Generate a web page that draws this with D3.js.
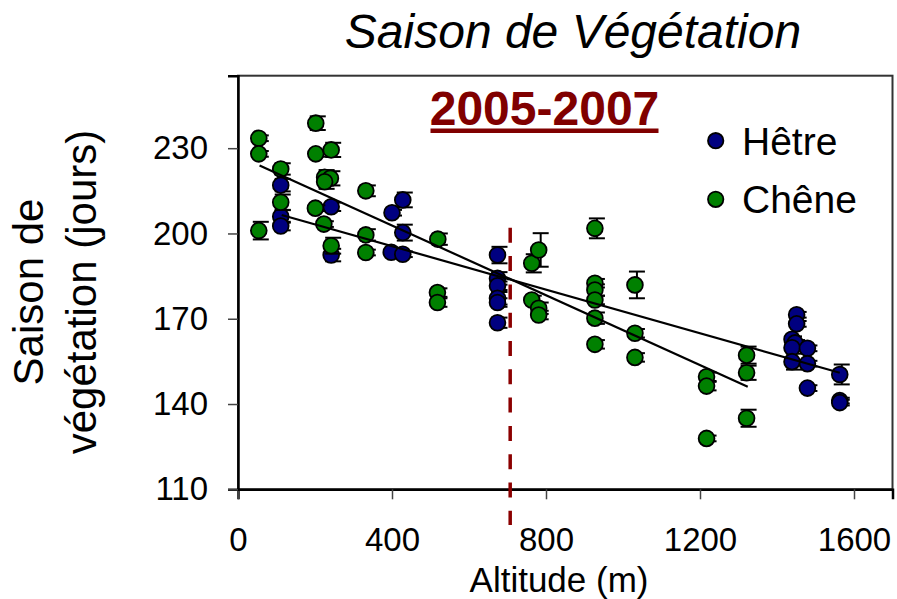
<!DOCTYPE html>
<html>
<head>
<meta charset="utf-8">
<script src="https://cdn.jsdelivr.net/npm/d3@7/dist/d3.min.js"></script>
<style>
  html, body { margin: 0; padding: 0; background: #fff; }
  svg { display: block; font-family: "Liberation Sans", Arial, sans-serif; }
</style>
</head>
<body>
<svg id="chart" width="897" height="599"></svg>
<script>
// Hêtre (beech) sites: altitude (m), season length (days), error
const hetreAlt = [111, 111, 111, 242, 242, 400, 398, 428, 428, 428,
                  674, 674, 674, 674, 674, 674,
                  1451, 1451, 1439, 1447, 1439, 1439, 1479, 1479, 1479, 1563, 1563, 1563];
const hetreVal = [217, 206, 202.6, 209.4, 192.4, 207.3, 193.4, 211.8, 200.3, 192.7,
                  192.4, 184.2, 181.6, 177.2, 175.7, 168.6,
                  171.4, 168.2, 162.8, 161.5, 159.8, 154.9, 159.6, 154.2, 145.6, 150.4, 141.2, 140.5];
const hetreErr = [2.2, 2.2, 1.5, 1.5, 2.2, 1, 1, 2.6, 2.8, 1,
                  2.9, 2.2, 1.5, 2.2, 1.5, 1.8,
                  1, 1, 1, 1, 1, 2.8, 1, 1, 1, 3.5, 1, 1];

// Chêne (oak) sites
const cheneAlt = [54, 54, 54, 111, 111, 202, 202, 201, 242, 225, 240, 225, 223, 242,
                  332, 332, 332, 519, 518, 518, 763, 763, 781, 781, 781,
                  927, 927, 927, 927, 927, 927, 1031, 1031, 1031,
                  1217, 1217, 1217, 1321, 1321, 1321];
const cheneVal = [233.5, 228, 201, 222.7, 211, 238.8, 228, 208.9, 229.4, 219.8, 219.4, 218.2, 203.3, 195.7,
                  215, 199.5, 193.3, 198, 179.2, 175.7, 189.5, 176.6, 194.2, 173.7, 171.3,
                  201.8, 182.5, 180.1, 176.6, 170.2, 161, 181.9, 164.9, 156.4,
                  149.6, 146.3, 127.9, 157.2, 151, 135];
const cheneErr = [1, 1, 3.1, 2, 2.7, 2.4, 1, 1, 2.5, 2.5, 2.5, 2.5, 1, 2.8,
                  1.9, 2, 1, 2, 1.5, 1.5, 3.2, 1.5, 5.9, 2, 1.5,
                  3.5, 1.5, 2, 1.5, 2, 1.5, 4.7, 1.5, 1.5,
                  1.5, 1.5, 1, 3, 2.5, 3];

// Linear trends: [altitude start, value start, altitude end, value end]
const hetreTrend = [113.5, 206.5, 1563, 151];
const cheneTrend = [56, 223.9, 1324, 146.1];

// Altitude threshold marked by the dashed line, and its vertical extent (days)
const thresholdAlt = 707;
const thresholdSpan = [202, 97.4];

const xTicks = [0, 400, 800, 1200, 1600];
const yTicks = [110, 140, 170, 200, 230];
const seriesNames = ["Hêtre", "Chêne"];
const seriesColors = ["#000080", "#008000"];

const svg = d3.select("#chart");
const plotLeft = 238, plotRight = 892.5, plotTop = 75.7, plotBottom = 489.3;

const x = d3.scaleLinear().domain([0, 1700]).range([plotLeft, plotRight]);
const y = d3.scaleLinear().domain([110, 255.5]).range([plotBottom, plotTop]);

// Title
svg.append("text")
  .attr("x", 573).attr("y", 48)
  .attr("text-anchor", "middle")
  .attr("font-size", 48).attr("font-style", "italic")
  .text("Saison de Végétation");

// Plot frame
svg.append("rect")
  .attr("x", plotLeft).attr("y", plotTop)
  .attr("width", plotRight - plotLeft).attr("height", plotBottom - plotTop)
  .attr("fill", "none").attr("stroke", "#333").attr("stroke-width", 2);

// Axes
const xAxis = svg.append("g")
  .attr("transform", `translate(0,${plotBottom})`)
  .call(d3.axisBottom(x).tickValues(xTicks).tickSize(10).tickPadding(28).tickFormat(d3.format("d")));
const yAxis = svg.append("g")
  .attr("transform", `translate(${plotLeft},0)`)
  .call(d3.axisLeft(y).tickValues(yTicks).tickSize(10).tickPadding(20).tickFormat(d3.format("d")));
[xAxis, yAxis].forEach(g => {
  g.select(".domain").attr("stroke", "#000").attr("stroke-width", 2.5);
  g.selectAll(".tick line").attr("stroke", "#444").attr("stroke-width", 1.5);
  g.selectAll(".tick text").attr("font-size", 33).attr("fill", "#000")
    .attr("font-family", "Liberation Sans, Arial, sans-serif");
});
xAxis.selectAll(".tick text").attr("dy", "0.71em");

// Axis titles
svg.append("text")
  .attr("x", 559).attr("y", 592)
  .attr("text-anchor", "middle").attr("font-size", 35)
  .text("Altitude (m)");
const yTitle = svg.append("text")
  .attr("transform", "translate(0,292) rotate(-90)")
  .attr("text-anchor", "middle").attr("font-size", 42);
yTitle.append("tspan").attr("x", 0).attr("y", 43).text("Saison de");
yTitle.append("tspan").attr("x", 0).attr("y", 96).text("végétation (jours)");

// Period label
svg.append("text")
  .attr("x", 544.5).attr("y", 125)
  .attr("text-anchor", "middle")
  .attr("font-size", 48).attr("font-weight", "bold")
  .attr("fill", "#800000")
  .text("2005-2007");
svg.append("rect")
  .attr("x", 430.5).attr("y", 128.5).attr("width", 228).attr("height", 4.5)
  .attr("fill", "#800000");

// Dashed threshold line
svg.append("line")
  .attr("x1", x(thresholdAlt)).attr("x2", x(thresholdAlt))
  .attr("y1", y(thresholdSpan[0])).attr("y2", y(thresholdSpan[1]))
  .attr("stroke", "#8b0000").attr("stroke-width", 3.5)
  .attr("stroke-dasharray", "15 13.3");

// Points with error bars
function drawSeries(alts, vals, errs, color) {
  const pts = alts.map((a, i) => ({a, v: vals[i], e: errs[i]}));
  const g = svg.append("g");
  const eb = g.append("g").attr("stroke", "#000").attr("stroke-width", 2);
  pts.forEach(p => {
    const cx = x(p.a) + 2;
    eb.append("line").attr("x1", cx).attr("x2", cx)
      .attr("y1", y(p.v + p.e)).attr("y2", y(p.v - p.e));
    [p.v + p.e, p.v - p.e].forEach(v => {
      eb.append("line").attr("x1", cx - 8).attr("x2", cx + 8)
        .attr("y1", y(v)).attr("y2", y(v));
    });
  });
  g.selectAll("circle").data(pts).join("circle")
    .attr("cx", d => x(d.a)).attr("cy", d => y(d.v)).attr("r", 7.9)
    .attr("fill", color).attr("stroke", "#000").attr("stroke-width", 1.8);
}
drawSeries(hetreAlt, hetreVal, hetreErr, seriesColors[0]);
drawSeries(cheneAlt, cheneVal, cheneErr, seriesColors[1]);

// Trend lines
[hetreTrend, cheneTrend].forEach(t => {
  svg.append("line")
    .attr("x1", x(t[0])).attr("y1", y(t[1]))
    .attr("x2", x(t[2])).attr("y2", y(t[3]))
    .attr("stroke", "#000").attr("stroke-width", 2.2);
});

// Legend
const legendY = [140.7, 199.3];
seriesNames.forEach((name, i) => {
  svg.append("circle")
    .attr("cx", 715.7).attr("cy", legendY[i]).attr("r", 7.7)
    .attr("fill", seriesColors[i]).attr("stroke", "#000").attr("stroke-width", 1.8);
  svg.append("text")
    .attr("x", 742).attr("y", legendY[i] + 14)
    .attr("font-size", 39)
    .text(name);
});
</script>
</body>
</html>
